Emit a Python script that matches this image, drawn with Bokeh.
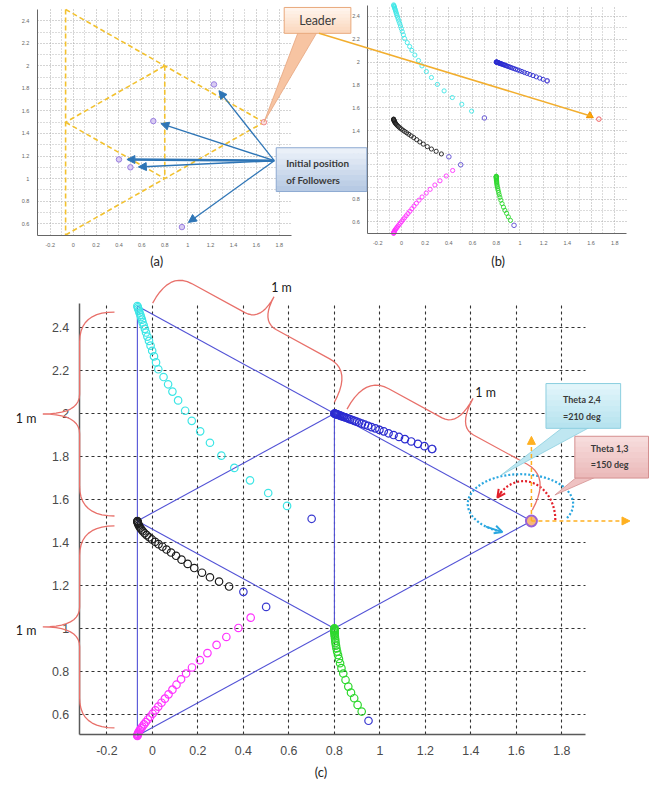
import math
from bokeh.plotting import figure
from bokeh.models import (Range1d, FixedTicker, Label, Arrow, NormalHead, OpenHead,
                          LinearAxis, Grid)
from bokeh.embed import file_html
from bokeh.resources import INLINE

# ---------------- data ----------------
x_ticks = [-0.2, 0, 0.2, 0.4, 0.6, 0.8, 1.0, 1.2, 1.4, 1.6, 1.8]
x_tick_labels = ["-0.2", "0", "0.2", "0.4", "0.6", "0.8", "1", "1.2", "1.4", "1.6", "1.8"]
y_ticks = [0.6, 0.8, 1.0, 1.2, 1.4, 1.6, 1.8, 2.0, 2.2, 2.4]
y_tick_labels = ["0.6", "0.8", "1", "1.2", "1.4", "1.6", "1.8", "2", "2.2", "2.4"]
x_minor = [-0.1, 0.1, 0.3, 0.5, 0.7, 0.9, 1.1, 1.3, 1.5, 1.7]
y_minor = [0.7, 0.9, 1.1, 1.3, 1.5, 1.7, 1.9, 2.1, 2.3]

# formation vertices  A, B, C, D, E, L(leader)
form_x = [-0.066, 0.8, -0.066, 0.8, -0.066, 1.666]
form_y = [2.5, 2.0, 1.5, 1.0, 0.5, 1.5]
form_edges = [(0, 5), (4, 5), (0, 4), (1, 3), (1, 2), (2, 3)]

leader_x = [1.666]
leader_y = [1.5]
leader_mark_b_x = [1.59]
leader_mark_b_y = [1.53]

init_x = [0.70, 1.23, 0.40, 0.50, 0.95]
init_y = [1.51, 1.835, 1.17, 1.10, 0.57]

cyan_x = [0.592, 0.509, 0.429, 0.360, 0.303, 0.253, 0.210, 0.173, 0.144, 0.113, 0.088,
          0.069, 0.049, 0.026, 0.016, 0.007, -0.001, -0.008, -0.015, -0.022, -0.028,
          -0.033, -0.038, -0.043, -0.046, -0.050, -0.053, -0.057, -0.059, -0.062, -0.064, -0.066]
cyan_y = [1.570, 1.630, 1.689, 1.747, 1.804, 1.864, 1.917, 1.966, 2.013, 2.061, 2.102,
          2.136, 2.170, 2.206, 2.238, 2.266, 2.292, 2.316, 2.338, 2.358, 2.377,
          2.394, 2.410, 2.424, 2.437, 2.449, 2.460, 2.470, 2.479, 2.487, 2.494, 2.500]

blue_x = [1.229, 1.196, 1.167, 1.138, 1.110, 1.084, 1.060, 1.038, 1.017, 0.998, 0.980,
          0.963, 0.948, 0.934, 0.921, 0.909, 0.898, 0.888, 0.879, 0.870, 0.862, 0.855,
          0.848, 0.842, 0.836, 0.831, 0.826, 0.822, 0.818, 0.814, 0.811, 0.808, 0.806,
          0.804, 0.802, 0.801, 0.800]
blue_y = [1.835, 1.848, 1.859, 1.870, 1.881, 1.891, 1.900, 1.908, 1.917, 1.924, 1.931,
          1.937, 1.943, 1.948, 1.953, 1.958, 1.962, 1.966, 1.970, 1.973, 1.976, 1.979,
          1.982, 1.984, 1.986, 1.988, 1.990, 1.992, 1.993, 1.995, 1.996, 1.997, 1.998,
          1.998, 1.999, 2.000, 2.000]

black_x = [0.337, 0.293, 0.253, 0.218, 0.184, 0.155, 0.128, 0.104, 0.082, 0.062, 0.044,
           0.027, 0.012, -0.002, -0.014, -0.025, -0.034, -0.042, -0.048, -0.053, -0.057,
           -0.060, -0.062, -0.064, -0.065, -0.066, -0.066]
black_y = [1.195, 1.218, 1.238, 1.259, 1.281, 1.300, 1.320, 1.338, 1.353, 1.367, 1.380,
           1.392, 1.403, 1.414, 1.424, 1.434, 1.443, 1.452, 1.460, 1.467, 1.474,
           1.480, 1.486, 1.491, 1.495, 1.498, 1.500]

magenta_x = [0.432, 0.378, 0.325, 0.282, 0.242, 0.209, 0.174, 0.148, 0.126, 0.106, 0.088,
             0.071, 0.055, 0.040, 0.026, 0.013, 0.001, -0.010, -0.020, -0.029, -0.037,
             -0.044, -0.050, -0.055, -0.059, -0.062, -0.064, -0.065, -0.066, -0.066]
magenta_y = [1.050, 1.002, 0.960, 0.923, 0.885, 0.852, 0.818, 0.790, 0.763, 0.738, 0.715,
             0.693, 0.673, 0.654, 0.636, 0.619, 0.603, 0.589, 0.576, 0.564, 0.553,
             0.543, 0.535, 0.527, 0.520, 0.514, 0.509, 0.505, 0.502, 0.500]

green_x = [0.920, 0.902, 0.887, 0.873, 0.861, 0.849, 0.839, 0.831, 0.825, 0.820, 0.816,
           0.812, 0.809, 0.807, 0.805, 0.804, 0.803, 0.802, 0.801, 0.801, 0.800, 0.800,
           0.800, 0.800, 0.800, 0.800]
green_y = [0.613, 0.644, 0.675, 0.701, 0.729, 0.760, 0.790, 0.815, 0.838, 0.858, 0.876,
           0.892, 0.907, 0.920, 0.932, 0.943, 0.953, 0.962, 0.970, 0.977, 0.983, 0.988,
           0.992, 0.995, 0.998, 1.000]

# ---------------- helpers ----------------
W, H = 652, 787          # design size (reference pixels)
S = 0.995                # small safety scale so the page fits the window


def sc(v):
    return int(round(v * S))


def fs(v):
    return f"{v * S:.1f}px"


class Frame:
    """maps design pixels <-> data for one panel's axes box"""
    def __init__(self, xr, yr, px0, px1, pyt, pyb):
        self.x0, self.x1 = xr
        self.y0, self.y1 = yr
        self.px0, self.px1, self.pyt, self.pyb = px0, px1, pyt, pyb

    def X(self, px):
        return self.x0 + (px - self.px0) * (self.x1 - self.x0) / (self.px1 - self.px0)

    def Y(self, py):
        return self.y0 + (self.pyb - py) * (self.y1 - self.y0) / (self.pyb - self.pyt)

    def PX(self, x):
        return self.px0 + (x - self.x0) * (self.px1 - self.px0) / (self.x1 - self.x0)

    def PY(self, y):
        return self.pyb - (y - self.y0) * (self.pyb - self.pyt) / (self.y1 - self.y0)


fra = Frame((-0.313, 1.904), (0.497, 2.5), 37, 292, 9, 236)
frb = Frame((-0.284, 1.9), (0.5, 2.495), 369, 629, 5, 234)
frc = Frame((-0.322, 1.905), (0.505, 2.51), 79, 588, 305, 738)

p = figure(x_range=Range1d(frc.X(0), frc.X(W)), y_range=Range1d(frc.Y(H), frc.Y(0)),
           width=sc(W), height=sc(H), frame_width=sc(W), frame_height=sc(H), min_border=0,
           output_backend="svg", toolbar_location=None, tools="")
p.title.visible = False
p.outline_line_color = None
p.background_fill_color = "white"
p.border_fill_color = "white"
p.extra_x_ranges = {"a": Range1d(fra.X(0), fra.X(W)), "b": Range1d(frb.X(0), frb.X(W)),
                    "px": Range1d(0, W)}
p.extra_y_ranges = {"a": Range1d(fra.Y(H), fra.Y(0)), "b": Range1d(frb.Y(H), frb.Y(0)),
                    "px": Range1d(-H, 0)}
RA = dict(x_range_name="a", y_range_name="a")
RB = dict(x_range_name="b", y_range_name="b")
RP = dict(x_range_name="px", y_range_name="px")
OV = dict(level="overlay", **RP)


def style_axis(ax, ticks, labels, minor, font, color, lcolor, lw, standoff):
    ax.ticker = FixedTicker(ticks=ticks, minor_ticks=minor)
    ax.major_label_overrides = {t: l for t, l in zip(ticks, labels)}
    ax.major_label_text_font = "Liberation Sans"
    ax.major_label_text_font_size = font
    ax.major_label_text_color = color
    ax.axis_line_color = lcolor
    ax.axis_line_width = lw
    ax.major_tick_line_color = None
    ax.minor_tick_line_color = None
    ax.major_label_standoff = standoff


def panel_axes(fr, rng, font, color, lcolor, lw, so_x, so_y):
    if rng is None:
        xa, ya = p.xaxis[0], p.yaxis[0]
    else:
        xa = LinearAxis(**rng)
        ya = LinearAxis(**rng)
        p.add_layout(xa, "below")
        p.add_layout(ya, "left")
    xa.fixed_location = fr.y0
    xa.bounds = (fr.x0, fr.x1)
    ya.fixed_location = fr.x0
    ya.bounds = (fr.y0, fr.y1)
    style_axis(xa, x_ticks, x_tick_labels, x_minor, font, color, lcolor, lw, so_x)
    style_axis(ya, y_ticks, y_tick_labels, y_minor, font, color, lcolor, lw, so_y)


def panel_grid(fr, rng, color, dash, width, minor_color=None):
    for dim, ticks, minor, bnd, cross in [(0, x_ticks, x_minor, (fr.x0, fr.x1), (fr.y0, fr.y1)),
                                          (1, y_ticks, y_minor, (fr.y0, fr.y1), (fr.x0, fr.x1))]:
        g = Grid(dimension=dim, ticker=FixedTicker(ticks=ticks, minor_ticks=minor),
                 bounds=bnd, cross_bounds=cross, grid_line_color=color, grid_line_dash=dash,
                 grid_line_width=width, minor_grid_line_color=minor_color,
                 minor_grid_line_dash=dash, minor_grid_line_width=width, **rng)
        p.add_layout(g)


def mix(c1, c2, t):
    a = [int(c1[i:i + 2], 16) for i in (1, 3, 5)]
    b = [int(c2[i:i + 2], 16) for i in (1, 3, 5)]
    return "#" + "".join(f"{int(round(a[k] + (b[k] - a[k]) * t)):02x}" for k in range(3))


def grad_box(l, r, t, b, c_top, c_bot, line_color, nb=8):
    tops, bots, cols = [], [], []
    for i in range(nb):
        t0 = t + (b - t) * i / nb
        t1 = min(b, t + (b - t) * (i + 1) / nb + 0.6)
        tops.append(-t0)
        bots.append(-t1)
        cols.append(mix(c_top, c_bot, (i + 0.5) / nb))
    p.quad(left=[l] * nb, right=[r] * nb, top=tops, bottom=bots, fill_color=cols,
           line_color=None, **OV)
    p.quad(left=[l], right=[r], top=[-t], bottom=[-b], fill_color=None, line_color=line_color,
           line_width=1, **OV)


def patch(pts, fill, line, lw=0.8):
    p.patch([a for a, _ in pts], [-b for _, b in pts], fill_color=fill, line_color=line,
            line_width=lw, **OV)


def text(px, py, s, size, align="left", bold=False, color="#3a3a3a", font="Lato"):
    p.add_layout(Label(x=px, y=-py, text=s, text_font=font, text_font_size=fs(size),
                       text_align=align, text_baseline="middle", text_color=color,
                       text_font_style="bold" if bold else "normal", level="overlay", **RP))


def arrow(x0, y0, x1, y1, color, lw, head=None, dash="solid"):
    p.add_layout(Arrow(x_start=x0, y_start=-y0, x_end=x1, y_end=-y1, line_color=color,
                       line_width=lw, line_dash=dash, end=head, level="overlay", **RP))


def qbez(a, c, b, n=10):
    out = []
    for i in range(n + 1):
        t = i / n
        out.append(((1 - t) ** 2 * a[0] + 2 * (1 - t) * t * c[0] + t * t * b[0],
                    (1 - t) ** 2 * a[1] + 2 * (1 - t) * t * c[1] + t * t * b[1]))
    return out


def brace(p0, p1, u0, u1, ve, vb, vt, c1, c2):
    L = math.hypot(p1[0] - p0[0], p1[1] - p0[1])
    dx, dy = (p1[0] - p0[0]) / L, (p1[1] - p0[1]) / L
    ox, oy = dy, -dx
    um = (u0 + u1) / 2
    loc = (qbez((u0, ve), (u0, vb), (u0 + c1, vb)) + qbez((um - c2, vb), (um, vb), (um, vt)) +
           qbez((um, vt), (um, vb), (um + c2, vb)) + qbez((u1 - c1, vb), (u1, vb), (u1, ve)))
    return [(p0[0] + u * dx + v * ox, p0[1] + u * dy + v * oy) for u, v in loc]


sx0 = [form_x[i] for i, j in form_edges]
sy0 = [form_y[i] for i, j in form_edges]
sx1 = [form_x[j] for i, j in form_edges]
sy1 = [form_y[j] for i, j in form_edges]

traj = [(cyan_x, cyan_y, "#3ee6e6"), (blue_x, blue_y, "#2b2bd0"), (black_x, black_y, "#1e1e1e"),
        (magenta_x, magenta_y, "#ff33ff"), (green_x, green_y, "#2ed82e")]

# ---------------- panel (a) ----------------
panel_axes(fra, RA, fs(5.5), "#666666", "#666666", 1, 2, 2)
panel_grid(fra, RA, "#a8a8a8", "1 2", 1, "#b8b8b8")
p.segment(x0=sx0, y0=sy0, x1=sx1, y1=sy1, line_color="#f2c12e", line_width=1.6,
          line_dash="5 3", **RA)
p.scatter(init_x, init_y, marker="circle", size=5.5 * S, fill_color="#d9ccf2",
          line_color="#9a7fe0", line_width=1, **RA)
p.scatter(leader_x, leader_y, marker="circle", size=5.5 * S, fill_color="#fbe0e0",
          line_color="#f08a8a", line_width=1, **RA)

arrow_start = (275, 161)
arrow_widths = [1.3, 1.3, 2.6, 1.6, 1.3]
for x, y, w in zip(init_x, init_y, arrow_widths):
    px, py = fra.PX(x), fra.PY(y)
    ddx, ddy = arrow_start[0] - px, arrow_start[1] - py
    d = math.hypot(ddx, ddy)
    arrow(arrow_start[0], arrow_start[1], px + ddx / d * 8, py + ddy / d * 8, "#2e75b6", w,
          NormalHead(size=8 * S, fill_color="#2e75b6", line_color="#2e75b6"))

# ---------------- panel (b) ----------------
panel_axes(frb, RB, fs(5.5), "#666666", "#666666", 1, 2, 2)
panel_grid(frb, RB, "#a8a8a8", "1 2", 1, "#b8b8b8")
for xs, ys, col in traj:
    p.scatter(xs, ys, marker="circle", size=4.2 * S, fill_color=None, line_color=col,
              line_width=0.9, **RB)
p.scatter(init_x, init_y, marker="circle", size=4.6 * S, fill_color=None, line_color="#6a5ad6",
          line_width=1, **RB)
p.scatter(leader_x, leader_y, marker="circle", size=4.6 * S, fill_color=None,
          line_color="#f06060", line_width=1, **RB)

# leader callout + line to the leader marker in (b)
q1 = (frb.PX(leader_mark_b_x[0]), frb.PY(leader_mark_b_y[0]))
arrow(320, 33, q1[0], q1[1], "#f2ae2e", 1.5)
p.scatter(leader_mark_b_x, leader_mark_b_y, marker="triangle", size=7 * S, fill_color="#ffa800",
          line_color="#f09000", line_width=1, level="overlay", **RB)
patch([(299, 32), (318, 32), (fra.PX(leader_x[0]), fra.PY(leader_y[0]))],
      "#f7c4a2", "#e6a57e")
grad_box(285, 352, 7, 33, "#fff6ef", "#fbd6bb", "#e9a97c")
text(318.5, 20.5, "Leader", 12.5, align="center", color="#3c3c3c")

grad_box(277, 368, 148, 192, "#eef3fa", "#b3c7e2", "#8eaad2")
text(287, 163, "Initial position", 10, bold=True)
text(287, 180, "of Followers", 10, bold=True)
text(157, 262, "(a)", 13, align="center", color="#222222")
text(500, 262, "(b)", 13, align="center", color="#222222")

# ---------------- panel (c) ----------------
panel_axes(frc, None, fs(12.5), "#4a4a4a", "#5a5a5a", 1.5, 5, 4)
p.xgrid[0].cross_bounds = (frc.y0, frc.y1)
p.ygrid[0].cross_bounds = (frc.x0, frc.x1)
for g in (p.xgrid[0], p.ygrid[0]):
    g.grid_line_color = "#333333"
    g.grid_line_dash = "3 3"
    g.grid_line_width = 1.1

p.segment(x0=sx0, y0=sy0, x1=sx1, y1=sy1, line_color="#5252d6", line_width=1.1)
for xs, ys, col in traj:
    p.scatter(xs, ys, marker="circle", size=7.5 * S, fill_color=None, line_color=col,
              line_width=1.2)
p.scatter(init_x, init_y, marker="circle", size=7.5 * S, fill_color=None, line_color="#3a3ad0",
          line_width=1.2)

Lp = (frc.PX(leader_x[0]), frc.PY(leader_y[0]))


def ellipse_pts(cx, cy, rx, ry, a0, a1, n=40):
    pts = []
    for i in range(n + 1):
        t = math.radians(a0 + (a1 - a0) * i / n)
        pts.append((cx + rx * math.cos(t), cy - ry * math.sin(t)))
    return pts


cyan_arc = ellipse_pts(Lp[0] - 11, Lp[1] - 17, 53, 30, -28, 250)
red_arc = ellipse_pts(Lp[0] - 8, Lp[1] - 1, 32, 39, 0, 145)
for pts, col in [(cyan_arc, "#2aa7e0"), (red_arc, "#e3202a")]:
    p.line([a for a, _ in pts], [-b for _, b in pts], line_color=col, line_width=2.2,
           line_dash="2 2", **RP)
    arrow(pts[-4][0], pts[-4][1], pts[-1][0], pts[-1][1], col, 2,
          OpenHead(size=8 * S, line_color=col, line_width=2))

for ex, ey in [(Lp[0] + 99, Lp[1]), (Lp[0], Lp[1] - 85)]:
    arrow(Lp[0], Lp[1], ex, ey, "#ffb020", 1.5,
          NormalHead(size=8 * S, fill_color="#ffb020", line_color="#ffb020"), dash="4 3")
p.scatter(leader_x, leader_y, marker="circle", size=11 * S, fill_color="#f7b77a",
          line_color="#9a62d6", line_width=2, level="overlay")

# braces "1 m"
P = [(frc.PX(x), frc.PY(y)) for x, y in zip(form_x, form_y)]
A, B, C, D, E, Lv = P
for pts in [brace(C, A, 5, 210, 23, 58, 95, 30, 20),
            brace(E, C, 8, 211, 23, 58, 95, 30, 20),
            brace(A, B, 12, 220, 10, 46, 74, 25, 18),
            brace(B, Lv, 9, 221, 10, 48, 80, 27, 18)]:
    p.line([a for a, _ in pts], [-b for _, b in pts], line_color="#e8706a", line_width=1.3, **OV)
text(36, 420, "1 m", 12.5, align="right", color="#1a1a1a")
text(36, 633, "1 m", 12.5, align="right", color="#1a1a1a")
text(272, 288, "1 m", 12.5, color="#1a1a1a")
text(477, 394, "1 m", 12.5, color="#1a1a1a")

# theta callouts
patch([(565, 429), (592, 429), (503, 477)], "#bfe7f1", "#8ccfdf")
grad_box(548, 623, 385, 430, "#e4f6fb", "#b4e2ee", "#8ccfdf")
text(584, 401, "Theta 2,4", 9, align="center", bold=True)
text(584, 418, "=210 deg", 9, align="center", bold=True)

patch([(579, 479), (598, 479), (557, 497)], "#efc2c2", "#d49090")
grad_box(577, 651, 438, 480, "#f8dede", "#eab8b8", "#d49090")
text(612, 450, "Theta 1,3", 9, align="center", bold=True)
text(612, 466, "=150 deg", 9, align="center", bold=True)

text(322, 775, "(c)", 13, align="center", color="#222222")

open("out.html", "w").write(file_html(p, INLINE))
